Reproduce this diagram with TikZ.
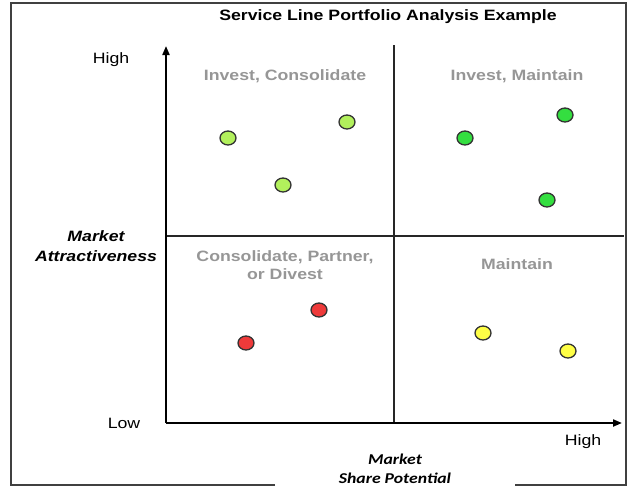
\documentclass[tikz,border=0pt]{standalone}
\usepackage{fontspec}
\setmainfont[FakeStretch=1.18]{Liberation Sans}
\newfontfamily\axisfont[FakeStretch=1.18]{Carlito}
\usetikzlibrary{arrows.meta,shapes.geometric}

\definecolor{quadgray}{RGB}{150,150,150}
\definecolor{dotlime}{RGB}{178,240,92}
\definecolor{dotgreen}{RGB}{52,222,64}
\definecolor{dotred}{RGB}{238,58,58}
\definecolor{dotyellow}{RGB}{255,255,70}

\begin{document}
\begin{tikzpicture}[x=1pt, y=-1pt, font=\fontsize{15}{18}\selectfont,
    bubble/.style={draw=black!80, line width=1.3pt, ellipse, minimum width=16pt, minimum height=14pt, inner sep=0pt},
    quad/.style={text=quadgray, font=\fontsize{15}{18}\selectfont\bfseries, align=center},
    axis/.style={line width=2pt, -{Triangle[length=9pt,width=7pt]}},
    divider/.style={line width=1.2pt, black!85}]
    \useasboundingbox (0,0) rectangle (629,488);

    % frame, open at the bottom for the x-axis title
    \draw[line width=2pt, black!75] (275,485) -- (11,485) -- (11,3) -- (626,3) -- (626,485) -- (515,485);

    \node (title) [font=\fontsize{15}{18}\selectfont\bfseries] at (388,17) {Service Line Portfolio Analysis Example};

    % axes
    \coordinate (O) at (166,423);
    \coordinate (ytop) at (166,46);
    \coordinate (xend) at (622,423);
    \coordinate (vtop) at (394,45);
    \coordinate (vbot) at (394,423);
    \coordinate (hleft) at (166,236);
    \coordinate (hright) at (624,236);
    \draw[divider] (vtop) -- (vbot);
    \draw[divider] (hleft) -- (hright);
    \draw[axis] (O) -- (ytop);
    \draw[axis] (O) -- (xend);

    \node (yhigh) at (111,60) {High};
    \node (ylow) at (124,423) {Low};
    \node (xhigh) at (583,442) {High};
    \node (ytitle) [font=\fontsize{15}{20}\selectfont\bfseries\itshape, align=center] at (96,246) {Market\\Attractiveness};
    \node (xtitle) [font=\fontsize{15}{19}\axisfont\bfseries\itshape, align=center] at (395,469) {Market\\Share Potential};

    % quadrant names
    \node (q1) [quad] at (285,76) {Invest, Consolidate};
    \node (q2) [quad] at (517,76) {Invest, Maintain};
    \node (q3) [quad] at (285,265) {Consolidate, Partner,\\or Divest};
    \node (q4) [quad] at (517,264) {Maintain};

    % service lines
    \node (a1) [bubble, fill=dotlime] at (228,138) {};
    \node (a2) [bubble, fill=dotlime] at (347,122) {};
    \node (a3) [bubble, fill=dotlime] at (283,185) {};
    \node (b1) [bubble, fill=dotgreen] at (465,138) {};
    \node (b2) [bubble, fill=dotgreen] at (565,115) {};
    \node (b3) [bubble, fill=dotgreen] at (547,200) {};
    \node (c1) [bubble, fill=dotred] at (246,343) {};
    \node (c2) [bubble, fill=dotred] at (319,310) {};
    \node (d1) [bubble, fill=dotyellow] at (483,333) {};
    \node (d2) [bubble, fill=dotyellow] at (568,351) {};
\end{tikzpicture}
\end{document}
